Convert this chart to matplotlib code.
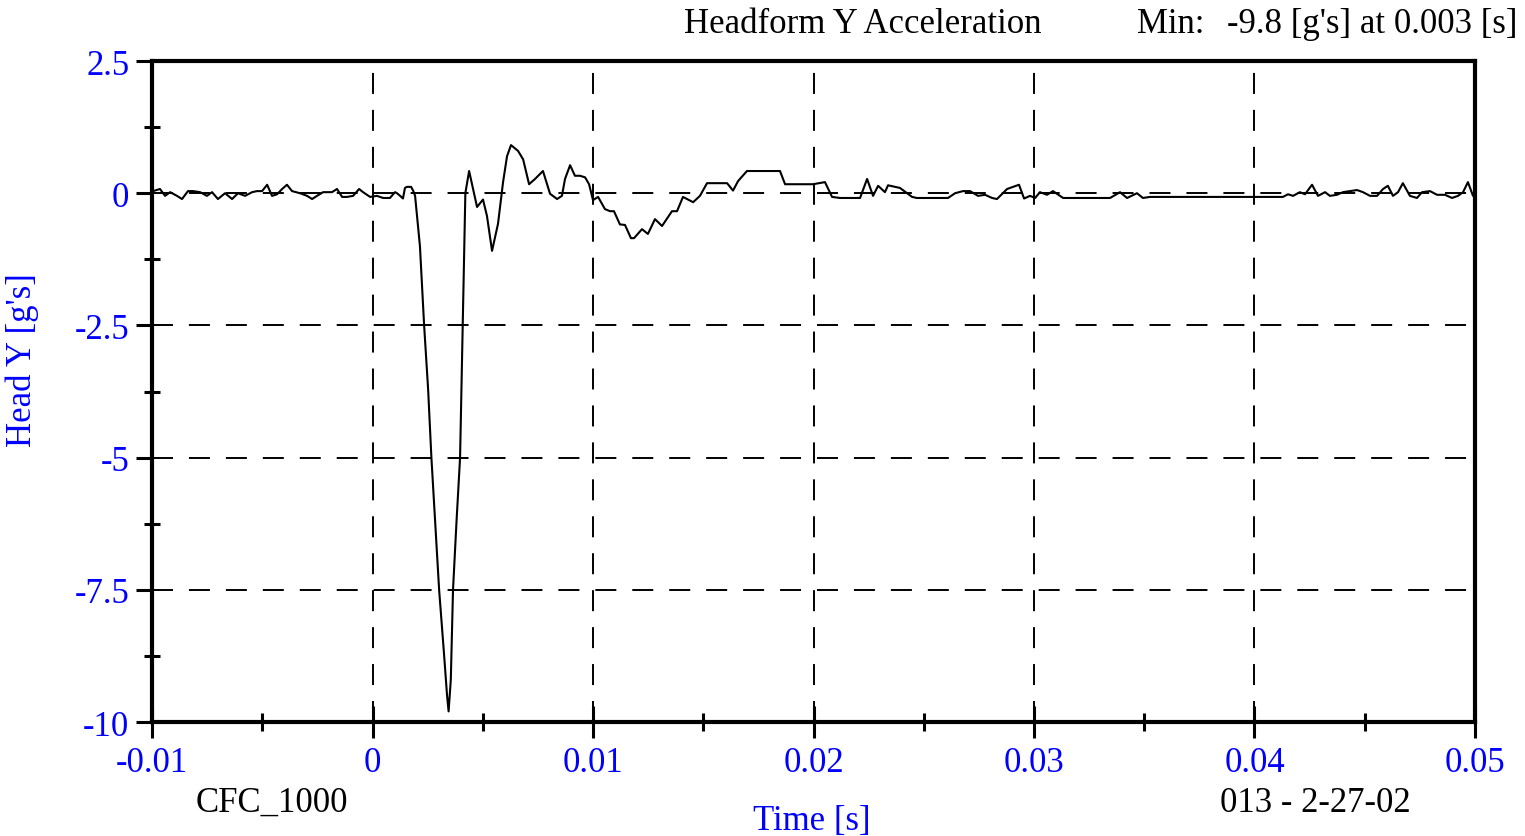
import matplotlib
matplotlib.use("Agg")
import matplotlib.pyplot as plt
import numpy as np

plt.rcParams['font.family'] = ['Liberation Serif', 'DejaVu Serif']

# time in ms, acceleration in g's
t_ms = [-10.0, -9.95, -9.64, -9.41, -9.18, -8.87, -8.64, -8.37, -8.14, -7.82,
        -7.51, -7.28, -7.01, -6.69, -6.37, -6.10, -5.78, -5.46, -5.24, -5.01,
        -4.78, -4.56, -4.33, -4.10, -3.88, -3.65, -3.29, -2.97, -2.74, -2.52,
        -2.24, -1.84, -1.61, -1.38, -1.16, -0.88, -0.61, -0.43, -0.11, 0.20,
        0.48, 0.79, 1.02, 1.11, 1.25, 1.38, 1.47, 1.56, 1.75, 1.84,
        1.93, 2.15, 2.34, 2.52, 2.67, 2.86, 3.02, 3.24, 3.38, 3.45,
        3.55, 3.65, 3.81, 3.97, 4.09, 4.21, 4.38, 4.55, 4.74, 5.01,
        5.19, 5.42, 5.69, 5.92, 6.10, 6.28, 6.60, 6.83, 7.10, 7.37,
        7.73, 8.05, 8.37, 8.59, 8.73, 8.96, 9.18, 9.41, 9.64, 9.82,
        10.00, 10.23, 10.54, 10.77, 10.95, 11.22, 11.45, 11.72, 11.86, 12.22,
        12.49, 12.81, 13.13, 13.58, 13.81, 14.08, 14.54, 14.85, 15.17, 16.08,
        16.35, 16.58, 16.98, 18.48, 18.71, 19.98, 20.52, 20.84, 21.20, 22.11,
        22.43, 22.70, 22.93, 23.24, 23.38, 23.92, 24.47, 24.69, 26.10, 26.42,
        26.78, 27.10, 27.46, 27.78, 28.10, 28.32, 28.78, 29.32, 29.55, 29.82,
        30.05, 30.27, 30.59, 30.86, 31.32, 33.45, 33.90, 34.22, 34.67, 34.94,
        35.26, 41.29, 41.52, 41.75, 42.06, 42.29, 42.61, 42.88, 43.20, 43.42,
        43.74, 44.01, 44.65, 44.92, 45.24, 45.56, 45.83, 46.05, 46.28, 46.51,
        46.73, 47.05, 47.37, 47.60, 47.96, 48.28, 48.64, 48.96, 49.23, 49.46,
        49.68, 49.91, 50.00]
accel_g = [0.05, 0.04, 0.08, -0.05, 0.02, -0.05, -0.11, 0.04, 0.04, 0.02,
           -0.05, 0.02, -0.11, 0.00, -0.11, 0.00, -0.05, 0.02, 0.04, 0.04,
           0.16, -0.05, -0.02, 0.08, 0.16, 0.04, 0.00, -0.05, -0.11, -0.05,
           0.02, 0.02, 0.08, -0.07, -0.07, -0.05, 0.08, 0.02, -0.07, -0.05,
           -0.09, -0.09, 0.02, 0.00, -0.05, -0.10, 0.10, 0.12, 0.12, 0.05,
           -0.05, -1.0, -2.5, -3.7, -5.0, -6.35, -7.5, -8.7, -9.5, -9.8,
           -9.2, -7.5, -6.2, -5.0, -2.5, 0.0, 0.42, 0.10, -0.26, -0.12,
           -0.43, -1.09, -0.58, 0.21, 0.70, 0.91, 0.80, 0.64, 0.17, 0.27,
           0.42, -0.01, -0.11, -0.05, 0.27, 0.53, 0.33, 0.33, 0.30, 0.17,
           -0.13, -0.07, -0.30, -0.34, -0.34, -0.59, -0.60, -0.85, -0.85, -0.68,
           -0.77, -0.49, -0.62, -0.34, -0.34, -0.07, -0.17, -0.05, 0.19, 0.19,
           0.05, 0.23, 0.42, 0.42, 0.17, 0.17, 0.21, -0.07, -0.09, -0.09,
           0.27, -0.05, 0.14, 0.02, 0.15, 0.10, -0.07, -0.09, -0.09, 0.00,
           0.04, 0.04, -0.05, -0.03, -0.09, -0.11, 0.08, 0.16, -0.10, -0.05,
           -0.09, 0.02, -0.03, 0.04, -0.09, -0.09, 0.02, -0.09, 0.00, -0.09,
           -0.07, -0.07, -0.02, -0.05, 0.02, -0.02, 0.16, -0.05, 0.02, -0.05,
           -0.03, 0.02, 0.06, 0.02, -0.05, -0.05, 0.08, 0.14, -0.05, 0.02,
           0.19, -0.05, -0.09, 0.02, 0.04, -0.03, -0.03, -0.09, -0.05, 0.02,
           0.21, -0.05, -0.05]

x_major = [-0.01, 0, 0.01, 0.02, 0.03, 0.04, 0.05]
x_minor = [-0.005, 0.005, 0.015, 0.025, 0.035, 0.045]
x_labels = ["-0.01", "0", "0.01", "0.02", "0.03", "0.04", "0.05"]
y_major = [2.5, 0, -2.5, -5, -7.5, -10]
y_minor = [1.25, -1.25, -3.75, -6.25, -8.75]
y_labels = ["2.5", "0", "-2.5", "-5", "-7.5", "-10"]

blue = '#0000ff'
fs = 25

fig = plt.figure(figsize=(15.25, 8.37), dpi=100)
ax = fig.add_axes([0.0997, 0.1362, 0.8675, 0.7897])

t = np.array(t_ms) / 1000.0
ax.plot(t, accel_g, color='black', linewidth=1.5, zorder=3)

ax.set_xlim(-0.01, 0.05)
ax.set_ylim(-10, 2.5)

ax.set_xticks(x_major)
ax.set_xticklabels(x_labels)
ax.set_xticks(x_minor, minor=True)
ax.set_yticks(y_major)
ax.set_yticklabels(y_labels)
ax.set_yticks(y_minor, minor=True)

ax.tick_params(axis='x', which='major', direction='inout', length=23, width=2.2,
               pad=6, labelsize=fs, labelcolor=blue)
ax.tick_params(axis='x', which='minor', direction='inout', length=13, width=2.2)
ax.tick_params(axis='y', which='major', direction='out', length=11.5, width=2.2,
               pad=5, labelsize=fs, labelcolor=blue)
ax.tick_params(axis='y', which='minor', direction='inout', length=12, width=2.2)

# dashed black grid, dashes about 21 px with 16 px gaps
ax.grid(which='major', color='black', linestyle=(0, (10.8, 8.2)), linewidth=1.4)

for s in ax.spines.values():
    s.set_linewidth(3)
    s.set_color('black')

fig.text(0.0144, 0.570, "Head Y [g's]", rotation=90, color=blue, fontsize=fs,
         ha='center', va='center')
fig.text(0.5325, 0.0084, "Time [s]", color=blue, fontsize=fs, ha='center', va='baseline')
fig.text(0.1784, 0.0299, "CFC_1000", color='black', fontsize=fs, ha='center', va='baseline')
fig.text(0.8623, 0.0299, "013 - 2-27-02", color='black', fontsize=fs, ha='center', va='baseline')
fig.text(0.566, 0.9606, "Headform Y Acceleration", color='black', fontsize=fs,
         ha='center', va='baseline')
fig.text(0.7456, 0.9606, "Min:", color='black', fontsize=fs, ha='left', va='baseline')
fig.text(0.9948, 0.9606, "-9.8 [g's] at 0.003 [s]", color='black', fontsize=fs,
         ha='right', va='baseline')

fig.savefig("out.png", dpi=100)
